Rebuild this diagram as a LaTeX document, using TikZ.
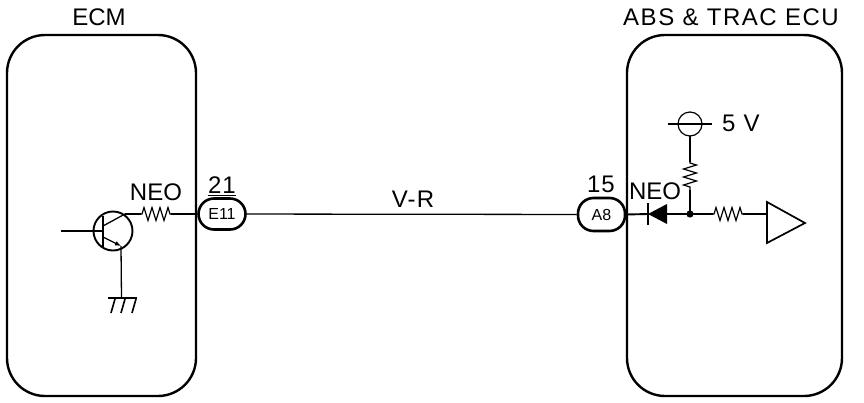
\documentclass[tikz,border=0pt]{standalone}
\usepackage{fontspec}
\setmainfont{Liberation Sans}
\usetikzlibrary{decorations.pathmorphing,calc,arrows.meta}
\tikzset{
  x=1pt,y=-1pt,
  ecubox/.style={draw,line width=2.4pt,rounded corners=38pt},
  pill/.style={draw,line width=2.6pt,rounded corners=15.5pt,minimum width=47pt,minimum height=31pt,inner sep=0pt,font=\fontsize{16}{17}\selectfont},
  wire/.style={line width=1.3pt},
  thick wire/.style={line width=1.9pt},
  res/.style={line width=1.2pt,decorate,decoration={zigzag,amplitude=6.5pt,segment length=8pt,pre length=1pt,post length=1pt}},
  lab/.style={inner sep=0pt,font=\fontsize{24}{26}\selectfont},
}
\begin{document}
\begin{tikzpicture}
\useasboundingbox (0,0) rectangle (864,402);
\fill[white] (0,0) rectangle (864,402);
% boxes
\draw[ecubox] (7,35) rectangle (196,396);
\draw[ecubox] (627,35) rectangle (842,396);
\node[lab] (ecm) at (99,17) {ECM};
\node[lab] (abs) at (731,17) {\addfontfeatures{LetterSpace=6.5}ABS \& TRAC ECU};
% connectors
\node[pill,fill=white] (e11) at (222,214) {E11};
\node[pill,fill=white,minimum height=33pt] (a8) at (601.5,214.5) {A8};
\node[lab] (n21) at (222,185) {\addfontfeatures{LetterSpace=4}21};
\node[lab] (n15) at (601,184) {\addfontfeatures{LetterSpace=4}15};
\draw[line width=1.3pt] (208,195.5) -- (236,195.5);
\node[lab] (vr) at (413,199) {\addfontfeatures{LetterSpace=5}V-R};
\draw[wire] (e11) -- (a8);
% transistor
\coordinate (tc) at (113,231);
\draw[line width=1.9pt] (tc) circle (19.5);
\draw[line width=2.4pt] (103,216) -- (103,247);
\coordinate (tin) at (61,231);
\coordinate (tb) at (103,231);
\draw[thick wire] (tin) -- (tb);
\coordinate (tcol) at (125,214);
\draw[wire] (103,226) -- (tcol);
\coordinate (tem) at (121,246);
\draw[wire,-{Latex[length=6pt,width=5pt]}] (103,237) -- (tem);
% ECM resistor
\coordinate (r1a) at (141,214);
\coordinate (r1b) at (171,214);
\node[lab] (neo1) at (156,192) {NEO};
\draw[wire] (tcol) -- (r1a);
\draw[res] (r1a) -- (r1b);
\draw[wire] (r1b) -- (196,214);
% ground
\coordinate (gnd) at (121.5,298);
\draw[wire] (tem) -- (gnd);
\draw[line width=1.6pt] (108,298) -- (137,298);
\foreach \x in {115,125,136} \draw[line width=1.6pt] (\x,299) -- (\x-4,313);
% ECU side
\node[lab] (neo2) at (655,191) {NEO};
\coordinate (dcat) at (648,214);
\coordinate (dan) at (667,214);
\coordinate (jn) at (690,214);
\draw[thick wire] (a8.east) -- (dcat);
\fill (dcat) -- (dan|-0,204) -- (dan|-0,224) -- cycle;
\draw[line width=2.2pt] (648,203) -- (648,225);
\draw[thick wire] (dan) -- (jn);
\fill (jn) circle (3.6);
\coordinate (r2a) at (713,214);
\coordinate (r2b) at (743,214);
\draw[wire] (jn) -- (r2a);
\draw[res] (r2a) -- (r2b);
\draw[line width=1.7pt] (767,202) -- (805,223) -- (767,243) -- cycle;
\coordinate (amp) at (767,214);
\draw[wire] (r2b) -- (amp);
% 5 V
\coordinate (vc) at (690,124);
\draw[line width=1.2pt] (vc) circle (12);
\draw[wire] (668,124) -- (712,124);
\node[lab,anchor=west] (fivev) at (722,123) {\addfontfeatures{LetterSpace=6}5 V};
\coordinate (r3a) at (690,162);
\coordinate (r3b) at (690,190);
\draw[wire] (690,136) -- (r3a);
\draw[res] (r3a) -- (r3b);
\draw[wire] (r3b) -- (jn);
\end{tikzpicture}
\end{document}
